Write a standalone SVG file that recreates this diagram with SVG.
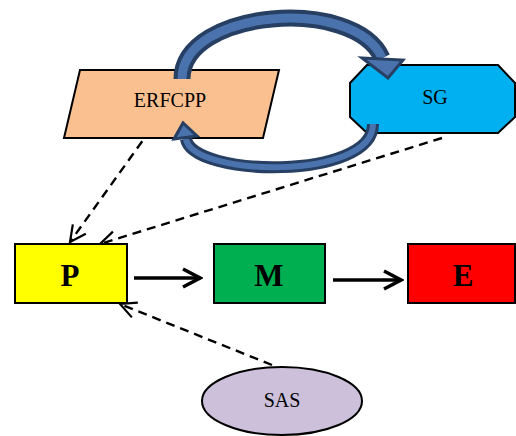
<svg xmlns="http://www.w3.org/2000/svg" width="516" height="436" viewBox="0 0 516 436">
<defs>
<style>
.lbl{font-family:"Liberation Serif","Times New Roman",serif;font-size:20px;fill:#000;text-anchor:middle;dominant-baseline:central}
.big{font-family:"Liberation Serif","Times New Roman",serif;font-size:31px;font-weight:bold;fill:#000;text-anchor:middle;dominant-baseline:central}
.box{stroke:#000;stroke-width:2}
.dash{fill:none;stroke:#000;stroke-width:2.4;stroke-dasharray:9,6}
.solid{fill:none;stroke:#000;stroke-width:3.5}
.bandO{fill:none;stroke:#263F63}
.bandI{fill:none;stroke:#4A73AE}
.head{fill:#4A73AE;stroke:#263F63;stroke-width:3;stroke-linejoin:miter}
</style>
<marker id="open" viewBox="0 0 20 20" refX="18" refY="10" markerWidth="20" markerHeight="20" markerUnits="userSpaceOnUse" orient="auto">
<path d="M2,2 L18,10 L2,18" fill="none" stroke="#000" stroke-width="2.2"/>
</marker>
<marker id="openB" viewBox="0 0 24 24" refX="21" refY="12" markerWidth="24" markerHeight="24" markerUnits="userSpaceOnUse" orient="auto">
<path d="M4,3 L21,12 L4,21" fill="none" stroke="#000" stroke-width="3.5"/>
</marker>
</defs>

<g id="connectors">
<path class="dash" d="M151,129 L70,242" marker-end="url(#open)"/>
<path class="dash" d="M442,138 L100,244" marker-end="url(#open)"/>
<path class="dash" d="M272,365 L120,304" marker-end="url(#open)"/>
<path class="solid" d="M134,278 L200,278" marker-end="url(#openB)"/>
<path class="solid" d="M333,280 L401,280" marker-end="url(#openB)"/>
</g>

<g id="ERFCPP">
<polygon class="box" points="80,70 279,70 263,138 64,138" fill="#FAC090"/>
<text class="lbl" x="170" y="100">ERFCPP</text>
</g>

<g id="SG">
<polygon class="box" points="367,65 498,65 515,83 515,117 498,133 367,133 350,117 350,83" fill="#00B0F0"/>
<text class="lbl" x="435" y="97">SG</text>
</g>

<g id="cycle">
<path class="bandO" stroke-width="17" d="M182,79 C182,9 355,-4 382,58"/>
<path class="bandI" stroke-width="9" d="M182,79 C182,9 355,-4 382,58"/>
<polygon class="head" points="362,58 403,60 388,78"/>
<path class="bandO" stroke-width="12" d="M373,124 C373,181 192,177 186,139"/>
<path class="bandI" stroke-width="6" d="M373,124 C373,181 192,177 186,139"/>
<polygon class="head" points="174,139 197,136 183,123"/>
</g>

<g id="P">
<rect class="box" x="15" y="244" width="112" height="59" fill="#FFFF00"/>
<text class="big" x="70" y="275">P</text>
</g>

<g id="M">
<rect class="box" x="214" y="244" width="111" height="59" fill="#00B050"/>
<text class="big" x="269" y="275">M</text>
</g>

<g id="E">
<rect class="box" x="408" y="244" width="107" height="59" fill="#FF0000"/>
<text class="big" x="463" y="275">E</text>
</g>

<g id="SAS">
<ellipse class="box" cx="282" cy="401" rx="80" ry="34" fill="#CCC0DA"/>
<text class="lbl" x="282" y="400">SAS</text>
</g>
</svg>
